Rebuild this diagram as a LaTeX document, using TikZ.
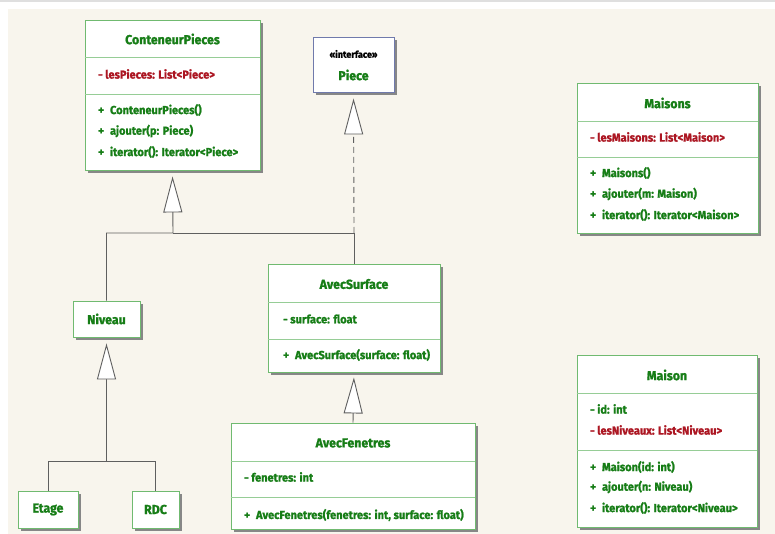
\documentclass[tikz,border=0pt]{standalone}
\usepackage{fontspec}
\setmainfont{Fira Sans}[FakeStretch=0.95,BoldFeatures={FakeBold=1.3}]
\usetikzlibrary{arrows.meta,positioning,shadows}
\definecolor{umlgreen}{RGB}{22,125,22}
\definecolor{umlred}{RGB}{172,22,34}
\definecolor{boxgreen}{RGB}{112,186,112}
\definecolor{sepgreen}{RGB}{150,205,150}
\definecolor{ifaceblue}{RGB}{112,122,172}
\definecolor{linegrey}{RGB}{95,95,95}
\definecolor{shadowgrey}{RGB}{135,135,135}
\definecolor{paper}{RGB}{248,245,237}
\newcommand{\plus}{+\hspace{6pt}}
\tikzset{
  class box/.style={draw=boxgreen,fill=white,line width=0.9pt,inner sep=0pt,
    drop shadow={shadow xshift=3pt,shadow yshift=-3pt,fill=shadowgrey,opacity=1}},
  iface box/.style={class box,draw=ifaceblue},
  class title/.style={text=umlgreen,font=\fontsize{13}{15}\selectfont\bfseries,inner sep=0pt},
  small class/.style={class box,text=umlgreen,font=\fontsize{13}{15}\selectfont\bfseries},
  member/.style={text=umlgreen,font=\fontsize{11.6}{13}\selectfont\bfseries,anchor=west,inner sep=0pt},
  private list/.style={member,text=umlred},
  sep line/.style={draw=sepgreen,line width=0.8pt},
  link/.style={draw=linegrey,line width=0.9pt},
  inherit/.style={link,-{Triangle[length=36pt,width=19pt,fill=white]},shorten >=6pt},
  realize/.style={inherit,dash pattern=on 6pt off 4pt},
}

\begin{document}
\begin{tikzpicture}[x=1pt,y=-1pt]
  \useasboundingbox (0,0) rectangle (775,534);
  \fill[paper] (8,9) rectangle (775,534);
  \draw[gray!25,line width=1.5pt] (0,1) -- (775,1);

  % ConteneurPieces
  \node[class box,minimum width=175pt,minimum height=150pt] (cp) at (172.5,95) {};
  \node[class title] (cpname) at (172.5,39) {ConteneurPieces};
  \draw[sep line] (cp.west |- 0,57) -- (cp.east |- 0,57);
  \draw[sep line] (cp.west |- 0,94) -- (cp.east |- 0,94);
  \node[private list] (cpa1) at (98,74) {- lesPieces: List<Piece>};
  \foreach \y/\txt [count=\i] in {110/{ConteneurPieces()},131/{ajouter(p: Piece)},152/{iterator(): Iterator<Piece>}}
    \node[member] (cpm\i) at (98,\y) {\plus\txt};

  % Piece
  \node[iface box,minimum width=81pt,minimum height=55pt] (piece) at (353.5,64.5) {};
  \node[font=\fontsize{9.5}{10}\selectfont\bfseries,inner sep=0pt] (pieceiface) at (353.5,54) {«interface»};
  \node[class title] (piecename) at (353.5,75) {Piece};

  % Maisons
  \node[class box,minimum width=181pt,minimum height=150pt] (maisons) at (667.5,158) {};
  \node[class title] (maisonsname) at (667.5,103) {Maisons};
  \draw[sep line] (maisons.west |- 0,121) -- (maisons.east |- 0,121);
  \draw[sep line] (maisons.west |- 0,157) -- (maisons.east |- 0,157);
  \node[private list] (maisonsa1) at (590,137) {- lesMaisons: List<Maison>};
  \foreach \y/\txt [count=\i] in {173/{Maisons()},194/{ajouter(m: Maison)},215/{iterator(): Iterator<Maison>}}
    \node[member] (maisonsm\i) at (590,\y) {\plus\txt};

  % Maison
  \node[class box,minimum width=180pt,minimum height=172pt] (maison) at (667,441) {};
  \node[class title] (maisonname) at (667,375) {Maison};
  \draw[sep line] (maison.west |- 0,393) -- (maison.east |- 0,393);
  \draw[sep line] (maison.west |- 0,450) -- (maison.east |- 0,450);
  \node[member] (maisona1) at (590,409) {- id: int};
  \node[private list] (maisona2) at (590,430) {- lesNiveaux: List<Niveau>};
  \foreach \y/\txt [count=\i] in {467/{Maison(id: int)},487/{ajouter(n: Niveau)},508/{iterator(): Iterator<Niveau>}}
    \node[member] (maisonm\i) at (590,\y) {\plus\txt};

  % AvecSurface
  \node[class box,minimum width=172pt,minimum height=108pt] (surface) at (354,318) {};
  \node[class title] (surfacename) at (354,284) {AvecSurface};
  \draw[sep line] (surface.west |- 0,302) -- (surface.east |- 0,302);
  \draw[sep line] (surface.west |- 0,339) -- (surface.east |- 0,339);
  \node[member] (surfacea1) at (283,319) {- surface: float};
  \node[member] (surfacem1) at (283,355) {\plus AvecSurface(surface: float)};

  % AvecFenetres
  \node[class box,minimum width=244pt,minimum height=106pt] (fenetres) at (353,476) {};
  \node[class title] (fenetresname) at (353,443) {AvecFenetres};
  \draw[sep line] (fenetres.west |- 0,461) -- (fenetres.east |- 0,461);
  \draw[sep line] (fenetres.west |- 0,497) -- (fenetres.east |- 0,497);
  \node[member] (fenetresa1) at (244,477) {- fenetres: int};
  \node[member] (fenetresm1) at (244,515) {\plus AvecFenetres(fenetres: int, surface: float)};

  % Niveau, Etage, RDC
  \node[small class,minimum width=67pt,minimum height=36pt] (niveau) at (106.5,319) {Niveau};
  \node[small class,minimum width=60pt,minimum height=37pt] (etage) at (48,509.5) {Etage};
  \node[small class,minimum width=47pt,minimum height=37pt] (rdc) at (155.5,509.5) {RDC};

  % generalisations
  \coordinate (cpjoin) at (173,233);
  \coordinate (nivjoin) at (106.5,461);
  \draw[link] (surface.north) |- (cpjoin);
  \draw[inherit] (niveau.north) |- (cpjoin) -- (cp.south);
  \draw[realize] (surface.north |- cpjoin) -- (piece.south);
  \draw[link] (rdc.north) |- (nivjoin);
  \draw[inherit] (etage.north) |- (nivjoin) -- (niveau.south);
  \draw[inherit,shorten >=5pt] (fenetres.north) -- (surface.south);
\end{tikzpicture}
\end{document}
